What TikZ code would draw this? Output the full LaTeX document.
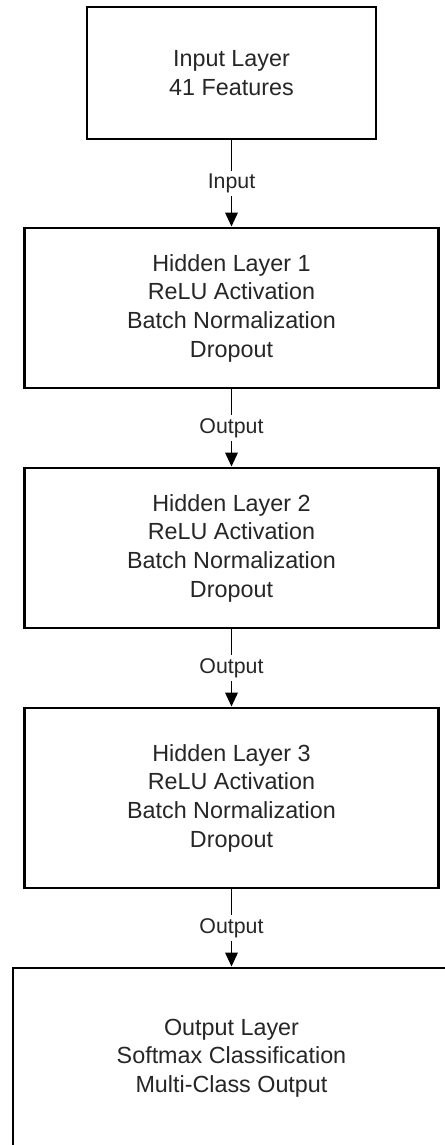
\documentclass[tikz,border=0pt]{standalone}
\usepackage{fontspec}
\setmainfont{Liberation Sans}
\usetikzlibrary{arrows.meta}

\begin{document}
\begin{tikzpicture}[x=0.75pt, y=-0.75pt,
  layerbox/.style={draw=black, line width=2.2pt, fill=white, align=center,
    text=black!85, inner sep=0pt, font=\fontsize{17.5}{21.5}\selectfont},
  flow/.style={-{Triangle[length=10.5pt, width=9.5pt]}, line width=1pt},
  flowlabel/.style={fill=white, inner sep=2.5pt, text=black!85,
    font=\fontsize{16}{19}\selectfont}]

% Page size
\useasboundingbox (0,0) rectangle (445,1145);

% Layers of the network
\node[layerbox, minimum width=289*0.75pt, minimum height=132*0.75pt] (inp) at (231.5,73)
  {Input Layer\\41 Features};
\node[layerbox, minimum width=414*0.75pt, minimum height=160*0.75pt] (hid1) at (231.5,308)
  {Hidden Layer 1\\ReLU Activation\\Batch Normalization\\Dropout};
\node[layerbox, minimum width=414*0.75pt, minimum height=160*0.75pt] (hid2) at (231.5,548)
  {Hidden Layer 2\\ReLU Activation\\Batch Normalization\\Dropout};
\node[layerbox, minimum width=414*0.75pt, minimum height=180*0.75pt] (hid3) at (231.5,798)
  {Hidden Layer 3\\ReLU Activation\\Batch Normalization\\Dropout};
\node[layerbox, minimum width=437*0.75pt, minimum height=180*0.75pt] (outp) at (231.5,1058)
  {Output Layer\\Softmax Classification\\Multi-Class Output};

% Connections between layers
\draw[flow] (inp) -- (hid1) node[midway, flowlabel] (lbl1) {Input};
\draw[flow] (hid1) -- (hid2) node[midway, flowlabel] (lbl2) {Output};
\draw[flow] (hid2) -- (hid3) node[midway, flowlabel] (lbl3) {Output};
\draw[flow] (hid3) -- (outp) node[midway, flowlabel] (lbl4) {Output};
\end{tikzpicture}
\end{document}
